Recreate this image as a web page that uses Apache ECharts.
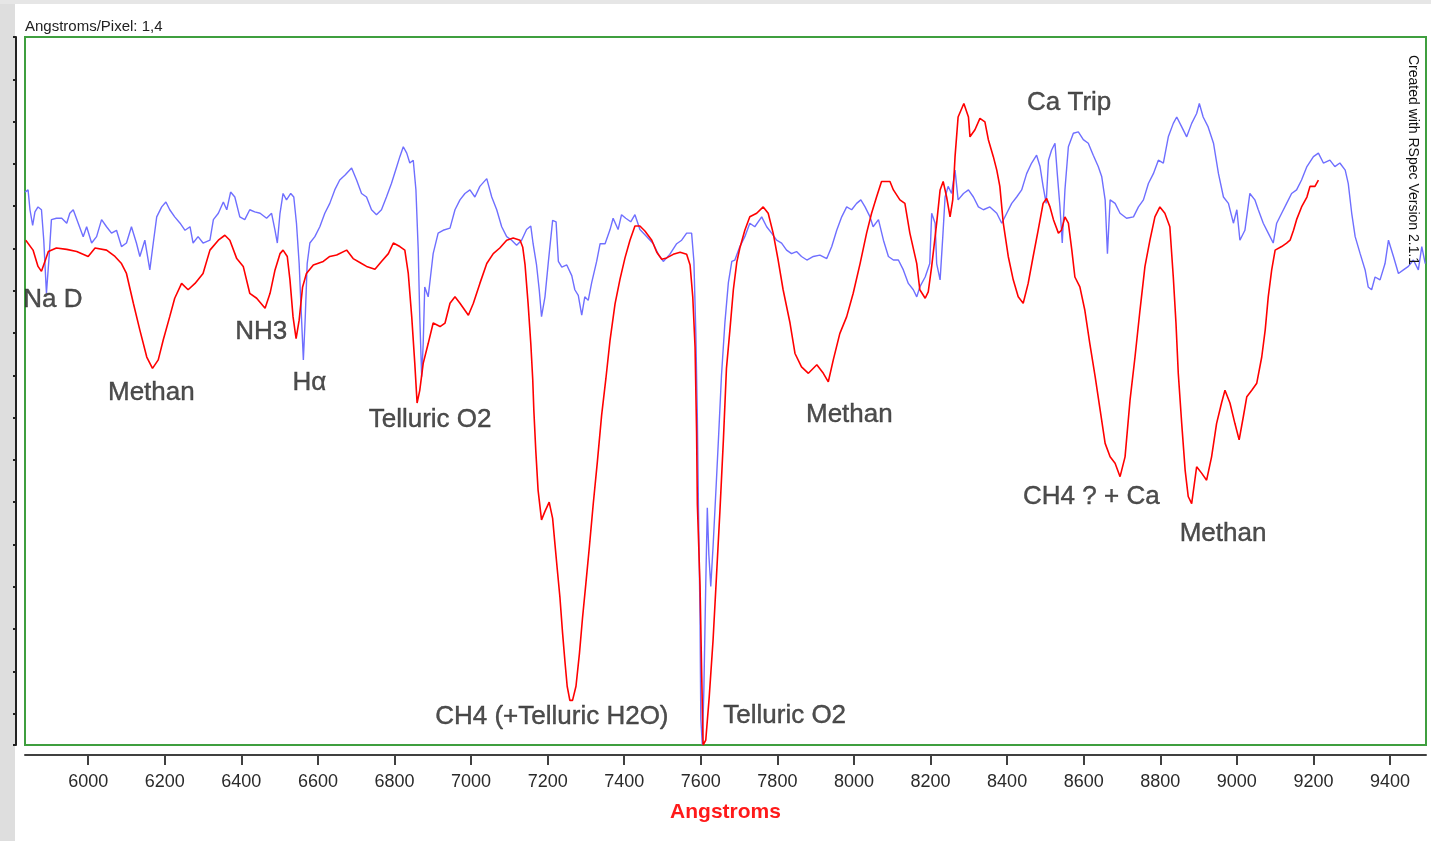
<!DOCTYPE html>
<html>
<head>
<meta charset="utf-8">
<title>Spectrum</title>
<script src="https://cdn.jsdelivr.net/npm/echarts@6/dist/echarts.min.js"></script>
<style>
html, body { margin: 0; padding: 0; background: #fff; }
#chart { width: 1431px; height: 841px; }
</style>
</head>
<body>
<div id="chart"></div>
<script>
// x axis tick labels (Angstroms)
const tickValues = [6000, 6200, 6400, 6600, 6800, 7000, 7200, 7400, 7600, 7800, 8000, 8200, 8400, 8600, 8800, 9000, 9200, 9400];

// red spectrum: [wavelength, relative flux]
const redSpectrum = [
  [5837,0.713],[5856,0.699],[5869,0.676],[5878,0.669],[5887,0.683],[5896,0.697],[5917,0.702],[5944,0.700],[5970,0.697],[6000,0.690],
  [6018,0.702],[6048,0.699],[6070,0.690],[6087,0.680],[6100,0.666],[6118,0.624],[6135,0.586],[6153,0.548],[6168,0.532],[6183,0.544],
  [6196,0.572],[6213,0.605],[6226,0.631],[6244,0.652],[6261,0.643],[6279,0.652],[6300,0.666],[6318,0.699],[6340,0.713],[6357,0.720],
  [6370,0.713],[6388,0.687],[6405,0.676],[6422,0.638],[6440,0.631],[6462,0.617],[6475,0.638],[6488,0.671],[6501,0.694],[6509,0.699],
  [6520,0.690],[6527,0.657],[6535,0.605],[6543,0.574],[6551,0.600],[6560,0.647],[6570,0.666],[6588,0.678],[6614,0.683],[6631,0.690],
  [6649,0.692],[6675,0.699],[6692,0.687],[6714,0.680],[6727,0.676],[6749,0.672],[6766,0.683],[6784,0.694],[6797,0.709],[6814,0.704],
  [6827,0.699],[6836,0.666],[6845,0.605],[6853,0.539],[6859,0.483],[6866,0.501],[6875,0.539],[6888,0.567],[6901,0.596],[6919,0.591],
  [6932,0.596],[6945,0.624],[6958,0.633],[6971,0.624],[6993,0.607],[7006,0.624],[7023,0.652],[7041,0.680],[7058,0.694],[7075,0.702],
  [7093,0.713],[7110,0.716],[7128,0.713],[7135,0.703],[7141,0.678],[7149,0.623],[7156,0.567],[7161,0.517],[7164,0.472],[7169,0.416],
  [7175,0.360],[7184,0.318],[7193,0.330],[7204,0.343],[7213,0.320],[7219,0.284],[7225,0.249],[7232,0.209],[7239,0.158],[7245,0.119],
  [7251,0.083],[7258,0.063],[7265,0.063],[7274,0.083],[7283,0.129],[7291,0.179],[7300,0.229],[7309,0.280],[7319,0.340],[7330,0.401],
  [7341,0.466],[7352,0.517],[7363,0.572],[7376,0.623],[7389,0.658],[7402,0.688],[7415,0.713],[7428,0.733],[7441,0.733],[7454,0.726],
  [7472,0.713],[7485,0.696],[7498,0.686],[7511,0.688],[7528,0.693],[7546,0.696],[7563,0.693],[7572,0.678],[7579,0.633],[7585,0.562],
  [7589,0.441],[7591,0.340],[7598,0.225],[7602,0.108],[7606,0.000],[7613,0.007],[7622,0.068],[7632,0.148],[7641,0.239],[7650,0.331],
  [7659,0.431],[7667,0.532],[7676,0.586],[7685,0.643],[7694,0.682],[7702,0.702],[7715,0.727],[7728,0.746],[7746,0.751],[7763,0.760],
  [7776,0.751],[7789,0.723],[7802,0.685],[7815,0.643],[7833,0.596],[7846,0.553],[7863,0.534],[7881,0.525],[7903,0.537],[7920,0.525],
  [7933,0.513],[7946,0.544],[7963,0.581],[7981,0.605],[7998,0.638],[8016,0.680],[8033,0.723],[8046,0.751],[8059,0.774],[8072,0.796],
  [8094,0.796],[8103,0.784],[8120,0.770],[8133,0.765],[8146,0.723],[8164,0.680],[8172,0.643],[8186,0.631],[8194,0.640],[8203,0.676],
  [8216,0.737],[8225,0.784],[8233,0.796],[8242,0.774],[8251,0.746],[8258,0.770],[8264,0.831],[8272,0.887],[8287,0.906],[8299,0.887],
  [8303,0.859],[8316,0.869],[8329,0.885],[8342,0.880],[8351,0.855],[8364,0.831],[8373,0.812],[8381,0.789],[8390,0.737],[8403,0.690],
  [8416,0.657],[8429,0.633],[8442,0.624],[8455,0.652],[8468,0.690],[8481,0.727],[8494,0.765],[8503,0.772],[8512,0.760],[8521,0.742],
  [8534,0.723],[8542,0.727],[8551,0.746],[8560,0.737],[8569,0.699],[8577,0.661],[8590,0.647],[8603,0.614],[8616,0.567],[8630,0.520],
  [8643,0.473],[8656,0.426],[8669,0.407],[8682,0.398],[8695,0.379],[8708,0.407],[8721,0.487],[8734,0.548],[8747,0.614],[8760,0.676],
  [8773,0.713],[8786,0.746],[8799,0.760],[8812,0.751],[8825,0.732],[8834,0.661],[8841,0.596],[8847,0.525],[8856,0.454],[8865,0.388],
  [8873,0.351],[8882,0.341],[8895,0.393],[8908,0.384],[8921,0.374],[8934,0.407],[8947,0.454],[8960,0.483],[8969,0.501],[8982,0.483],
  [8995,0.454],[9006,0.431],[9017,0.464],[9026,0.492],[9039,0.501],[9052,0.511],[9065,0.548],[9074,0.586],[9082,0.633],[9091,0.671],
  [9100,0.699],[9117,0.704],[9130,0.709],[9139,0.713],[9148,0.727],[9156,0.742],[9169,0.760],[9183,0.774],[9191,0.789],[9204,0.789],
  [9213,0.798]
];

// blue spectrum: [wavelength, relative flux]
const blueSpectrum = [
  [5835,0.781],[5843,0.784],[5848,0.756],[5855,0.734],[5861,0.753],[5869,0.760],[5878,0.756],[5884,0.713],[5891,0.638],[5898,0.690],
  [5904,0.742],[5917,0.744],[5931,0.744],[5944,0.737],[5952,0.751],[5961,0.756],[5974,0.737],[5987,0.718],[5996,0.732],[6009,0.709],
  [6022,0.718],[6035,0.742],[6048,0.732],[6061,0.723],[6074,0.727],[6087,0.704],[6100,0.709],[6113,0.732],[6126,0.709],[6135,0.690],
  [6148,0.713],[6161,0.671],[6170,0.709],[6179,0.746],[6192,0.760],[6203,0.767],[6213,0.756],[6226,0.746],[6240,0.737],[6253,0.727],
  [6266,0.732],[6274,0.709],[6287,0.718],[6300,0.709],[6318,0.713],[6327,0.742],[6340,0.751],[6353,0.767],[6362,0.756],[6372,0.781],
  [6383,0.774],[6396,0.746],[6409,0.742],[6422,0.756],[6435,0.753],[6449,0.751],[6466,0.744],[6479,0.751],[6488,0.727],[6494,0.709],
  [6501,0.751],[6509,0.779],[6518,0.770],[6529,0.779],[6537,0.774],[6544,0.737],[6551,0.680],[6557,0.605],[6562,0.544],[6567,0.605],
  [6572,0.680],[6579,0.709],[6592,0.718],[6605,0.732],[6618,0.751],[6631,0.765],[6644,0.784],[6657,0.798],[6671,0.805],[6688,0.815],
  [6701,0.798],[6714,0.779],[6727,0.774],[6740,0.756],[6753,0.749],[6766,0.756],[6779,0.774],[6792,0.793],[6806,0.817],[6814,0.831],
  [6823,0.845],[6832,0.836],[6840,0.822],[6849,0.826],[6856,0.784],[6862,0.699],[6866,0.605],[6871,0.520],[6875,0.567],[6879,0.647],
  [6888,0.633],[6894,0.661],[6901,0.694],[6914,0.723],[6927,0.727],[6945,0.730],[6958,0.756],[6971,0.770],[6984,0.779],[6997,0.784],
  [7010,0.774],[7023,0.789],[7041,0.800],[7054,0.774],[7067,0.756],[7080,0.732],[7093,0.718],[7106,0.713],[7119,0.706],[7132,0.713],
  [7145,0.728],[7156,0.733],[7162,0.708],[7171,0.678],[7178,0.643],[7184,0.605],[7193,0.633],[7202,0.683],[7213,0.741],[7222,0.739],
  [7228,0.683],[7237,0.675],[7250,0.678],[7263,0.663],[7271,0.643],[7280,0.635],[7289,0.607],[7297,0.633],[7306,0.628],[7315,0.653],
  [7328,0.683],[7337,0.708],[7350,0.708],[7363,0.728],[7371,0.744],[7384,0.728],[7393,0.749],[7404,0.744],[7417,0.739],[7428,0.749],
  [7441,0.728],[7459,0.718],[7476,0.708],[7489,0.693],[7502,0.683],[7519,0.693],[7537,0.708],[7550,0.713],[7563,0.723],[7576,0.723],
  [7582,0.683],[7587,0.582],[7591,0.461],[7594,0.330],[7598,0.179],[7600,0.037],[7604,0.000],[7608,0.078],[7613,0.229],[7617,0.335],
  [7621,0.269],[7626,0.224],[7632,0.280],[7640,0.365],[7646,0.431],[7654,0.522],[7663,0.597],[7672,0.653],[7681,0.683],[7689,0.685],
  [7702,0.704],[7715,0.718],[7728,0.737],[7741,0.732],[7759,0.746],[7772,0.732],[7785,0.723],[7798,0.713],[7811,0.709],[7824,0.699],
  [7837,0.694],[7850,0.697],[7863,0.690],[7877,0.685],[7894,0.690],[7911,0.692],[7929,0.687],[7942,0.704],[7955,0.727],[7968,0.746],
  [7981,0.760],[7994,0.756],[8007,0.765],[8018,0.770],[8029,0.760],[8042,0.746],[8050,0.732],[8064,0.742],[8077,0.713],[8090,0.690],
  [8103,0.685],[8116,0.685],[8129,0.671],[8142,0.652],[8155,0.643],[8164,0.633],[8172,0.647],[8186,0.661],[8198,0.680],[8203,0.751],
  [8212,0.737],[8216,0.680],[8225,0.657],[8232,0.718],[8238,0.774],[8246,0.789],[8255,0.779],[8264,0.812],[8272,0.770],[8286,0.779],
  [8299,0.784],[8312,0.774],[8325,0.760],[8338,0.756],[8355,0.760],[8373,0.751],[8386,0.737],[8399,0.751],[8412,0.765],[8425,0.774],
  [8438,0.784],[8451,0.807],[8464,0.822],[8477,0.833],[8486,0.817],[8494,0.789],[8502,0.765],[8508,0.826],[8516,0.840],[8525,0.850],
  [8531,0.807],[8538,0.760],[8544,0.709],[8551,0.784],[8560,0.845],[8573,0.864],[8586,0.866],[8599,0.855],[8612,0.850],[8625,0.833],
  [8638,0.817],[8647,0.803],[8656,0.770],[8662,0.694],[8669,0.770],[8682,0.765],[8695,0.751],[8712,0.744],[8730,0.746],[8743,0.760],
  [8756,0.770],[8769,0.793],[8782,0.807],[8795,0.826],[8808,0.822],[8821,0.859],[8834,0.878],[8843,0.887],[8856,0.873],[8869,0.859],
  [8882,0.878],[8895,0.892],[8902,0.906],[8912,0.887],[8925,0.873],[8939,0.850],[8952,0.807],[8965,0.774],[8978,0.765],[8991,0.737],
  [9000,0.756],[9008,0.713],[9021,0.727],[9034,0.779],[9047,0.770],[9056,0.756],[9069,0.737],[9082,0.723],[9095,0.709],[9104,0.737],
  [9117,0.751],[9130,0.765],[9143,0.779],[9156,0.784],[9169,0.798],[9183,0.817],[9200,0.831],[9213,0.836],[9226,0.822],[9243,0.826],
  [9256,0.817],[9269,0.822],[9283,0.812],[9291,0.793],[9300,0.751],[9309,0.718],[9322,0.694],[9335,0.671],[9343,0.647],[9352,0.643],
  [9361,0.661],[9374,0.657],[9387,0.680],[9396,0.713],[9409,0.690],[9422,0.666],[9435,0.671],[9448,0.676],[9461,0.685],[9474,0.671],
  [9483,0.704],[9492,0.680]
];

// line identifications: [wavelength, flux, text]
const lineLabels = [
  [5908, 0.629, 'Na D'],
  [6165, 0.497, 'Methan'],
  [6452, 0.583, 'NH3'],
  [6578, 0.511, 'H\u03b1'],
  [6893, 0.459, 'Telluric O2'],
  [7211, 0.040, 'CH4 (+Telluric H2O)'],
  [7819, 0.041, 'Telluric O2'],
  [7988, 0.466, 'Methan'],
  [8562, 0.907, 'Ca Trip'],
  [8620, 0.350, 'CH4 ? + Ca'],
  [8964, 0.298, 'Methan']
];

const font = "'Liberation Sans', Arial, sans-serif";
const chart = echarts.init(document.getElementById('chart'));

chart.setOption({
  backgroundColor: '#ffffff',
  animation: false,
  graphic: [
    { type: 'rect', shape: { x: 0, y: 0, width: 15, height: 841 }, style: { fill: '#dedede' }, z: 0 },
    { type: 'rect', shape: { x: 0, y: 0, width: 1431, height: 4 }, style: { fill: '#e6e6e6' }, z: 0 },
    { type: 'text', x: 25, y: 27, style: { text: 'Angstroms/Pixel: 1,4', fill: '#222', fontSize: 15, fontFamily: font, verticalAlign: 'middle' }, z: 10 },
    { type: 'text', x: 1413, y: 55, rotation: -Math.PI / 2,
      style: { text: 'Created with RSpec Version 2.1.1', fill: '#111', fontSize: 14, fontFamily: font, align: 'left', verticalAlign: 'middle' }, z: 10 }
  ],
  grid: [
    { left: 25, right: 5, top: 37, bottom: 96, show: true, borderColor: '#3f9f3f', borderWidth: 2, backgroundColor: 'transparent' },
    { left: 16, width: 1, top: 37, height: 708 }
  ],
  xAxis: [
    {
      type: 'value', gridIndex: 0, min: 5835, max: 9494, position: 'bottom', offset: 10,
      name: 'Angstroms', nameLocation: 'middle', nameGap: 47,
      nameTextStyle: { color: '#ff1a1a', fontSize: 21, fontWeight: 'bold', fontFamily: font },
      axisLine: { show: true, onZero: false, lineStyle: { color: '#404040', width: 2 } },
      axisTick: { show: true, length: 10, customValues: tickValues, lineStyle: { color: '#404040', width: 2 } },
      axisLabel: { color: '#2a2a2a', fontSize: 18, margin: 18, fontFamily: font, customValues: tickValues, formatter: v => String(v) },
      splitLine: { show: false }
    },
    { type: 'value', gridIndex: 1, show: false }
  ],
  yAxis: [
    { type: 'value', gridIndex: 0, min: 0, max: 1, show: false },
    {
      type: 'value', gridIndex: 1, inverse: true, min: 0, max: 16.74, interval: 1,
      axisLine: { show: true, lineStyle: { color: '#222', width: 2 } },
      axisTick: { show: true, length: 3, lineStyle: { color: '#222', width: 2 } },
      axisLabel: { show: false },
      splitLine: { show: false }
    }
  ],
  series: [
    {
      type: 'line', name: 'blue', xAxisIndex: 0, yAxisIndex: 0, data: blueSpectrum,
      symbol: 'none', lineStyle: { color: '#6f6fff', width: 1.4 }, z: 2
    },
    {
      type: 'line', name: 'red', xAxisIndex: 0, yAxisIndex: 0, data: redSpectrum,
      symbol: 'none', lineStyle: { color: '#ff0000', width: 1.6 }, z: 3
    },
    {
      type: 'scatter', xAxisIndex: 0, yAxisIndex: 0, data: lineLabels, symbolSize: 0, silent: true,
      itemStyle: { color: 'transparent' },
      label: {
        show: true, position: 'inside', formatter: p => p.data[2],
        color: '#222', textBorderColor: '#222', textBorderWidth: 0.4,
        fontSize: 26, fontFamily: font
      },
      z: 5
    }
  ]
});
</script>
</body>
</html>
